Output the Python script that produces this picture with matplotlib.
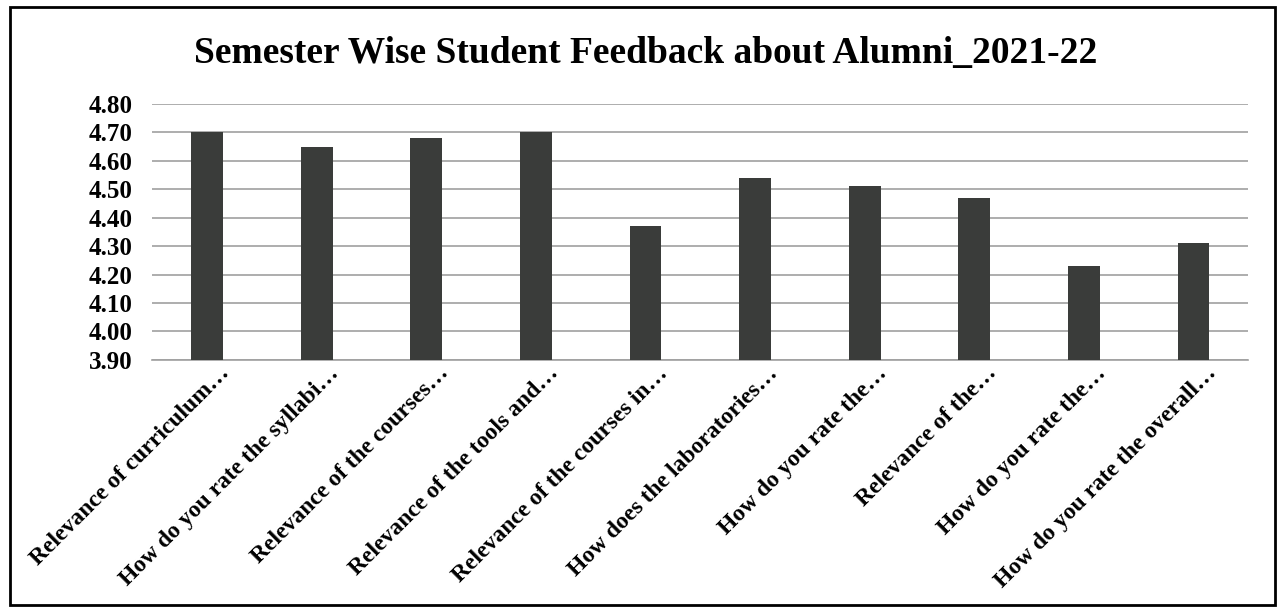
import matplotlib.pyplot as plt
import matplotlib.transforms as mtransforms
from matplotlib.patches import Rectangle

questions = [
    "Relevance of curriculum…",
    "How do you rate the syllabi…",
    "Relevance of the courses…",
    "Relevance of the tools and…",
    "Relevance of the courses in…",
    "How does the laboratories…",
    "How do you rate the…",
    "Relevance of the…",
    "How do you rate the…",
    "How do you rate the overall…",
]
scores = [4.70, 4.65, 4.68, 4.70, 4.37, 4.54, 4.51, 4.47, 4.23, 4.31]
y_ticks = [3.90, 4.00, 4.10, 4.20, 4.30, 4.40, 4.50, 4.60, 4.70, 4.80]

plt.rcParams['font.family'] = ['Liberation Serif', 'DejaVu Serif']
plt.rcParams['font.weight'] = 'bold'

fig = plt.figure(figsize=(12.79, 6.11), dpi=100)
ax = fig.add_axes([0.119, 0.411, 0.857, 0.419])

x = range(len(questions))
ax.bar(x, scores, width=0.29, color='#3a3c3a', zorder=3)

ax.set_ylim(3.90, 4.80)
ax.set_xlim(-0.5, len(questions) - 0.5)
ax.set_yticks(y_ticks)
ax.set_yticklabels([f"{v:.2f}" for v in y_ticks], fontsize=18, fontweight='bold')
ax.set_xticks(list(x))
ax.set_xticklabels(questions, rotation=45, ha='right', va='top', rotation_mode='anchor',
                   fontsize=17, fontweight='bold')
ax.tick_params(axis='both', length=0)
ax.tick_params(axis='x', pad=2)
ax.tick_params(axis='y', pad=14)

# nudge rotated labels to the right, like the original
shift = mtransforms.ScaledTranslation(0.12, 0, fig.dpi_scale_trans)
for lbl in ax.get_xticklabels():
    lbl.set_transform(lbl.get_transform() + shift)

ax.yaxis.grid(True, color='#a0a0a0', linewidth=1.2, zorder=0)
for s in ['top', 'right', 'left']:
    ax.spines[s].set_visible(False)
ax.spines['bottom'].set_color('#a0a0a0')
ax.spines['bottom'].set_linewidth(1.2)

fig.text(0.505, 0.912, "Semester Wise Student Feedback about Alumni_2021-22",
         ha='center', va='center', fontsize=27, fontweight='bold')

fig.patches.append(Rectangle((0.008, 0.01), 0.989, 0.978, transform=fig.transFigure,
                             fill=False, edgecolor='black', linewidth=2))

fig.savefig('out.png', dpi=100)
